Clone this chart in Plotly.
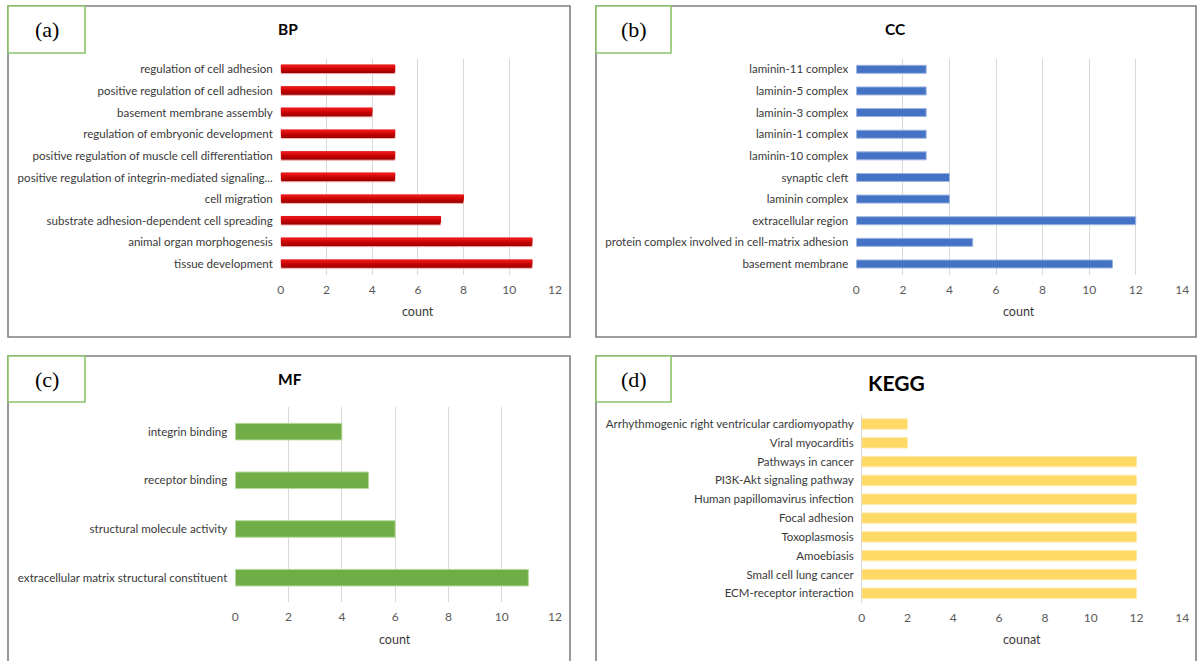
import plotly.graph_objects as go

W, H = 1198, 661

# ---- data -------------------------------------------------------------
bp_terms = [
    "regulation of cell adhesion",
    "positive regulation of cell adhesion",
    "basement membrane assembly",
    "regulation of embryonic development",
    "positive regulation of muscle cell differentiation",
    "positive regulation of integrin-mediated signaling...",
    "cell migration",
    "substrate adhesion-dependent cell spreading",
    "animal organ morphogenesis",
    "tissue development",
]
bp_counts = [5, 5, 4, 5, 5, 5, 8, 7, 11, 11]

cc_terms = [
    "laminin-11 complex",
    "laminin-5 complex",
    "laminin-3 complex",
    "laminin-1 complex",
    "laminin-10 complex",
    "synaptic cleft",
    "laminin complex",
    "extracellular region",
    "protein complex involved in cell-matrix adhesion",
    "basement membrane",
]
cc_counts = [3, 3, 3, 3, 3, 4, 4, 12, 5, 11]

mf_terms = [
    "integrin binding",
    "receptor binding",
    "structural molecule activity",
    "extracellular matrix structural constituent",
]
mf_counts = [4, 5, 6, 11]

kegg_terms = [
    "Arrhythmogenic right ventricular cardiomyopathy",
    "Viral myocarditis",
    "Pathways in cancer",
    "PI3K-Akt signaling pathway",
    "Human papillomavirus infection",
    "Focal adhesion",
    "Toxoplasmosis",
    "Amoebiasis",
    "Small cell lung cancer",
    "ECM-receptor interaction",
]
kegg_counts = [2, 2, 12, 12, 12, 12, 12, 12, 12, 12]

x_ticks_12 = [0, 2, 4, 6, 8, 10, 12]
x_ticks_14 = [0, 2, 4, 6, 8, 10, 12, 14]

# ---- helpers ------------------------------------------------------------
def px(x):
    return x / W


def py(y):
    return 1 - y / H


TEXT = "#3a3a3a"
TICK = "#595959"
GRID = "#d9d9d9"
FONT = "Lato"

fig = go.Figure()

# panel definitions: axis suffix, terms, counts, x-range max, ticks, pixel box
panels = [
    dict(k="", terms=bp_terms, counts=bp_counts, xmax=12, ticks=x_ticks_12,
         x0=280.8, x1=555.0, y0=58.5, y1=274.8, lab=11.55, grid=True),
    dict(k="2", terms=cc_terms, counts=cc_counts, xmax=14, ticks=x_ticks_14,
         x0=856.3, x1=1182.3, y0=58.5, y1=274.8, lab=11.5, grid=True),
    dict(k="3", terms=mf_terms, counts=mf_counts, xmax=12, ticks=x_ticks_12,
         x0=235.3, x1=555.0, y0=407.3, y1=602.0, lab=11.6, grid=True),
    dict(k="4", terms=kegg_terms, counts=kegg_counts, xmax=14, ticks=x_ticks_14,
         x0=861.7, x1=1182.3, y0=414.6, y1=602.7, lab=11.5, grid=False),
]

# BP: shaded red bars (base + lighter bands toward the top edge)
bp_bands = [
    (-0.20, 0.40, "#9c0000"),
    (-0.19, 0.31, "#b00000"),
    (-0.19, 0.23, "#c40404"),
    (-0.19, 0.15, "#d80a0a"),
    (-0.19, 0.08, "#e81616"),
]
for i, (off, wd, col) in enumerate(bp_bands):
    fig.add_trace(go.Bar(
        x=bp_counts, y=bp_terms, orientation="h",
        offset=off, width=wd,
        marker=dict(color=col,
                    line=dict(color="#f4b4b4", width=1 if i == 0 else 0)),
        hoverinfo="skip", showlegend=False,
        xaxis="x", yaxis="y",
    ))

# CC: blue bars
fig.add_trace(go.Bar(
    x=cc_counts, y=cc_terms, orientation="h", width=0.37, offset=-0.185,
    marker=dict(color="#4472c4", line=dict(color="#9db4e0", width=1)),
    hoverinfo="skip", showlegend=False, xaxis="x2", yaxis="y2",
))
# MF: green bars
fig.add_trace(go.Bar(
    x=mf_counts, y=mf_terms, orientation="h", width=0.34, offset=-0.17,
    marker=dict(color="#70ad47", line=dict(color="#b5d99c", width=1)),
    hoverinfo="skip", showlegend=False, xaxis="x3", yaxis="y3",
))
# KEGG: yellow bars
fig.add_trace(go.Bar(
    x=kegg_counts, y=kegg_terms, orientation="h", width=0.55, offset=-0.275,
    marker=dict(color="#ffd966", line=dict(color="#ffe9a8", width=1)),
    hoverinfo="skip", showlegend=False, xaxis="x4", yaxis="y4",
))

layout = dict(
    width=W, height=H, autosize=False,
    margin=dict(l=0, r=0, t=0, b=0, pad=0, autoexpand=False),
    paper_bgcolor="white", plot_bgcolor="white",
    barmode="overlay",
    font=dict(family=FONT, color=TEXT),
)

for p in panels:
    k = p["k"]
    n = len(p["terms"])
    layout["xaxis" + k] = dict(
        domain=[px(p["x0"]), px(p["x1"])],
        anchor="y" + k,
        range=[0, p["xmax"]],
        tickmode="array", tickvals=p["ticks"],
        ticks="", ticklabelstandoff=6, automargin=False,
        tickfont=dict(family=FONT, size=12, color=TICK),
        showgrid=p["grid"], gridcolor=GRID, gridwidth=1,
        zeroline=not p["grid"], zerolinecolor=GRID, zerolinewidth=1,
        showline=False, fixedrange=True,
    )
    layout["yaxis" + k] = dict(
        domain=[py(p["y1"]), py(p["y0"])],
        anchor="x" + k,
        type="category", categoryorder="array", categoryarray=p["terms"],
        range=[n - 0.5, -0.5],
        ticks="", ticklabelstandoff=7, automargin=False,
        tickfont=dict(family=FONT, size=p["lab"], color=TEXT),
        showgrid=False, zeroline=False, showline=False, fixedrange=True,
    )

fig.update_layout(**layout)

# ---- frames and panel tags --------------------------------------------
FRAME = "#7f7f7f"
TAGBOX = "#8cc46c"
frames = [(8, 6, 570, 337), (596, 6, 1196, 337),
          (8, 356, 570, 670), (596, 356, 1196, 670)]
tags = [(8, 6, 85, 53), (596, 6, 671, 53),
        (8, 356, 85, 402), (596, 356, 671, 402)]
shapes = []
for (a, b, c, d) in frames:
    shapes.append(dict(type="rect", xref="paper", yref="paper",
                       x0=px(a), x1=px(c), y0=py(d), y1=py(b),
                       line=dict(color=FRAME, width=1.6), layer="above"))
for (a, b, c, d) in tags:
    shapes.append(dict(type="rect", xref="paper", yref="paper",
                       x0=px(a), x1=px(c), y0=py(d), y1=py(b),
                       line=dict(color=TAGBOX, width=1.6),
                       fillcolor="white", layer="above"))
fig.update_layout(shapes=shapes)

annotations = []


def note(text, x, y, size, family=FONT, color="black", bold=False):
    annotations.append(dict(
        text=f"<b>{text}</b>" if bold else text,
        x=px(x), y=py(y), xref="paper", yref="paper",
        xanchor="center", yanchor="middle", showarrow=False,
        font=dict(family=family, size=size, color=color),
    ))


for t, x, y in [("(a)", 46.5, 29.5), ("(b)", 633.5, 29.5),
                ("(c)", 46.5, 379), ("(d)", 633.5, 379)]:
    note(t, x, y, 22, family="Liberation Serif")

note("BP", 288, 29.5, 15.5, bold=True)
note("CC", 895, 29.5, 15.5, bold=True)
note("MF", 290, 378.5, 15.5, bold=True)
note("KEGG", 896, 382, 21, bold=True)

note("count", 418, 312, 12.5, color=TEXT)
note("count", 1019, 312, 12.5, color=TEXT)
note("count", 395, 639.5, 12.5, color=TEXT)
note("counat", 1022, 639.5, 12.5, color=TEXT)

fig.update_layout(annotations=annotations)

fig.write_html("out.html", config={"displayModeBar": False, "responsive": False})
